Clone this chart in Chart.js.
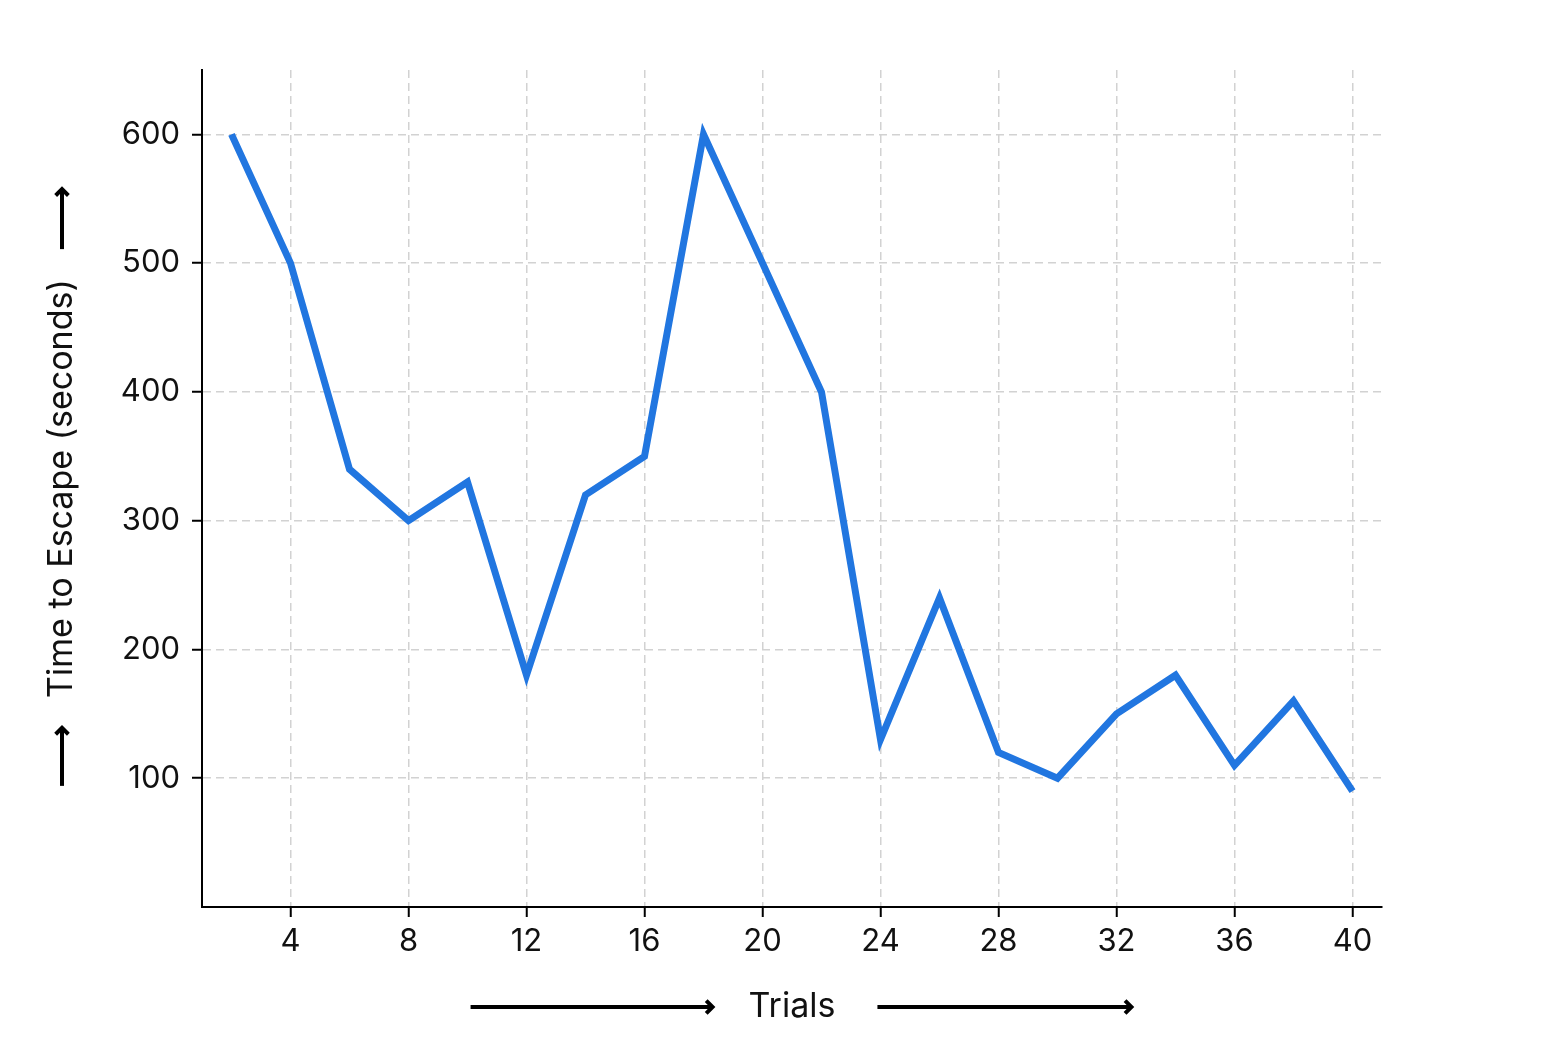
<!DOCTYPE html>
<html>
<head>
<meta charset="utf-8">
<script src="https://cdn.jsdelivr.net/npm/chart.js@4/dist/chart.umd.min.js"></script>
<style>
  html, body { margin: 0; padding: 0; background: #fff; }
  #wrap { width: 1553px; height: 1063px; position: relative; }
</style>
</head>
<body>
<div id="wrap"><canvas id="escapeChart"></canvas></div>
<script>
// ── DATA ──────────────────────────────────────────────
const trials = [2, 4, 6, 8, 10, 12, 14, 16, 18, 20, 22, 24, 26, 28, 30, 32, 34, 36, 38, 40];
const escapeTimes = [600, 500, 340, 300, 330, 180, 320, 350, 600, 500, 400, 130, 240, 120, 100, 150, 180, 110, 160, 90];
const xTicks = [4, 8, 12, 16, 20, 24, 28, 32, 36, 40];
const yTicks = [100, 200, 300, 400, 500, 600];

const FONT = 'Inter, "Open Sans", sans-serif';
const GRID = '#d2d2d2';
const TITLE_SIZE = 34;
const TITLE_HALF = TITLE_SIZE * 1.2 / 2;

// ── ARROWS BESIDE AXIS TITLES ─────────────────────────
function arrow(ctx, x1, y1, x2, y2) {
  const ang = Math.atan2(y2 - y1, x2 - x1);
  const h = 9;
  ctx.beginPath();
  ctx.moveTo(x1, y1);
  ctx.lineTo(x2, y2);
  ctx.stroke();
  ctx.beginPath();
  ctx.moveTo(x2 - h * Math.cos(ang - Math.PI / 4), y2 - h * Math.sin(ang - Math.PI / 4));
  ctx.lineTo(x2, y2);
  ctx.lineTo(x2 - h * Math.cos(ang + Math.PI / 4), y2 - h * Math.sin(ang + Math.PI / 4));
  ctx.stroke();
}

const titleArrows = {
  id: 'titleArrows',
  afterDraw(chart) {
    const { ctx, chartArea, scales } = chart;
    ctx.save();
    ctx.strokeStyle = '#000';
    ctx.lineWidth = 4;
    ctx.lineCap = 'butt';
    ctx.lineJoin = 'miter';

    // x title: "Trials"
    ctx.font = TITLE_SIZE + 'px ' + FONT;
    const xt = scales.x.options.title;
    const wX = ctx.measureText(xt.text).width;
    const cx = (chartArea.left + chartArea.right) / 2;
    const ty = scales.x.bottom - xt.padding.bottom - TITLE_HALF;
    arrow(ctx, cx - wX / 2 - 278, ty, cx - wX / 2 - 36, ty);
    arrow(ctx, cx + wX / 2 + 42, ty, cx + wX / 2 + 296, ty);

    // y title
    const yt = scales.y.options.title;
    const wY = ctx.measureText(yt.text).width;
    const cy = (chartArea.top + chartArea.bottom) / 2;
    const tx = scales.y.left + yt.padding.top + TITLE_HALF;
    arrow(ctx, tx, cy - wY / 2 - 30, tx, cy - wY / 2 - 90);
    arrow(ctx, tx, cy + wY / 2 + 88, tx, cy + wY / 2 + 30);
    ctx.restore();
  }
};

// ── CHART ─────────────────────────────────────────────
new Chart(document.getElementById('escapeChart'), {
  type: 'line',
  data: {
    datasets: [{
      data: trials.map((t, i) => ({ x: t, y: escapeTimes[i] })),
      borderColor: '#2176e0',
      borderWidth: 7,
      borderJoinStyle: 'miter',
      borderCapStyle: 'butt',
      pointRadius: 0,
      tension: 0,
      fill: false
    }]
  },
  options: {
    responsive: true,
    maintainAspectRatio: false,
    animation: false,
    layout: { padding: { left: 0, top: 70, right: 171, bottom: 0 } },
    plugins: { legend: { display: false }, tooltip: { enabled: false } },
    scales: {
      x: {
        type: 'linear',
        min: 1,
        max: 41,
        afterBuildTicks: s => { s.ticks = xTicks.map(v => ({ value: v })); },
        afterFit: s => { s.height = 156; },
        grid: {
          color: GRID,
          lineWidth: 1.5,
          tickLength: 10,
          tickColor: '#000',
          tickWidth: 2,
          tickBorderDash: []
        },
        border: { display: true, color: '#000', width: 2, dash: [8, 5] },
        ticks: {
          color: '#111',
          padding: 6,
          maxRotation: 0,
          font: { family: FONT, size: 31 }
        },
        title: {
          display: true,
          text: 'Trials',
          color: '#111',
          padding: { top: 0, bottom: 1063 - 1007 - TITLE_HALF },
          font: { family: FONT, size: TITLE_SIZE, lineHeight: 1.2 }
        }
      },
      y: {
        type: 'linear',
        min: 0,
        max: 650,
        afterBuildTicks: s => { s.ticks = yTicks.map(v => ({ value: v })); },
        afterFit: s => { s.width = 202; },
        grid: {
          color: GRID,
          lineWidth: 1.5,
          tickLength: 10,
          tickColor: '#000',
          tickWidth: 2,
          tickBorderDash: []
        },
        border: { display: true, color: '#000', width: 2, dash: [8, 5] },
        ticks: {
          color: '#111',
          padding: 12,
          font: { family: FONT, size: 31 }
        },
        title: {
          display: true,
          text: 'Time to Escape (seconds)',
          color: '#111',
          padding: { top: 62 - TITLE_HALF, bottom: 0 },
          font: { family: FONT, size: TITLE_SIZE, lineHeight: 1.2 }
        }
      }
    }
  },
  plugins: [titleArrows]
});
</script>
</body>
</html>
